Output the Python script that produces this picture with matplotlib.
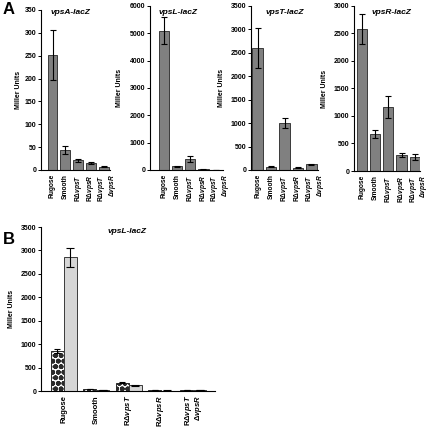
import numpy as np
import matplotlib
matplotlib.use('Agg')
import matplotlib.pyplot as plt
import matplotlib.transforms as mtransforms

plt.rcParams['font.family'] = ['Liberation Sans', 'DejaVu Sans']
plt.rcParams['font.weight'] = 'bold'
plt.rcParams['mathtext.fontset'] = 'custom'
plt.rcParams['mathtext.it'] = 'Liberation Sans:italic:bold'
plt.rcParams['mathtext.rm'] = 'Liberation Sans:bold'
plt.rcParams['hatch.linewidth'] = 1.8

strains = ['Rugose', 'Smooth', 'RΔ$\\mathit{vpsT}$', 'RΔ$\\mathit{vpsR}$',
           'RΔ$\\mathit{vpsT}$\nΔ$\\mathit{vpsR}$']

# panel A
vpsA = [252, 44, 21, 15, 7]
vpsA_err = [55, 8, 3, 2, 1]
vpsL = [5100, 130, 420, 20, 8]
vpsL_err = [500, 15, 110, 5, 2]
vpsT = [2600, 70, 1010, 50, 120]
vpsT_err = [430, 15, 105, 8, 12]
vpsR = [2580, 670, 1160, 295, 255]
vpsR_err = [280, 70, 200, 40, 50]

# panel B (vpsL-lacZ, two conditions)
b_dots = [860, 40, 175, 15, 15]
b_dots_err = [40, 5, 12, 2, 2]
b_light = [2850, 20, 120, 10, 15]
b_light_err = [210, 3, 10, 2, 2]

W, H = 434, 436
fig = plt.figure(figsize=(W / 100, H / 100), dpi=100)


def rect(l, t, r, b):
    return [l / W, 1 - b / H, (r - l) / W, (b - t) / H]


def style(ax, ymax, step, xlim, fs, shift):
    ax.set_ylim(0, ymax)
    ax.set_yticks(np.arange(0, ymax + 1, step))
    ax.set_xlim(*xlim)
    ax.spines['top'].set_visible(False)
    ax.spines['right'].set_visible(False)
    ax.spines['left'].set_linewidth(0.8)
    ax.spines['bottom'].set_linewidth(0.8)
    ax.tick_params(axis='y', labelsize=5, length=2.5, width=0.7, pad=1)
    ax.tick_params(axis='x', length=0, pad=3)
    ax.set_xticks(range(len(strains)))
    labels = ax.set_xticklabels(strains, rotation=90, fontsize=fs, va='top',
                                ha='center', multialignment='right', linespacing=0.95)
    # two-line label: first line sits on the bar, second line to its right
    off = mtransforms.ScaledTranslation(shift / 72, 0, fig.dpi_scale_trans)
    labels[-1].set_transform(labels[-1].get_transform() + off)
    ax.set_ylabel('Miller Units', fontsize=5, fontweight='bold')


panels = [
    ('vpsA-lacZ', vpsA, vpsA_err, (41, 10, 110, 170), 350, 50, (-0.9, 4.5), 70),
    ('vpsL-lacZ', vpsL, vpsL_err, (150, 6, 223, 170), 6000, 1000, (-1.1, 4.5), 178),
    ('vpsT-lacZ', vpsT, vpsT_err, (251, 6, 318, 170), 3500, 500, (-0.5, 4.5), 285),
    ('vpsR-lacZ', vpsR, vpsR_err, (354, 6, 420, 171), 3000, 500, (-0.6, 4.4), 391),
]
ylab_x = [22, 123, 225, 328]

x = np.arange(len(strains))
for i, (title, vals, err, r, ymax, step, xl, tx) in enumerate(panels):
    ax = fig.add_axes(rect(*r))
    ax.bar(x, vals, width=0.78, color='#808080', edgecolor='#3a3a3a', linewidth=0.7,
           yerr=err, capsize=2, error_kw=dict(elinewidth=0.8, capthick=0.8, ecolor='black'))
    style(ax, ymax, step, xl, 4.8, 2.6)
    ax.yaxis.set_label_coords((ylab_x[i] - r[0]) / (r[2] - r[0]), 0.5)
    fig.text(tx / W, 1 - 13 / H, title, fontsize=6, fontweight='bold', style='italic',
             ha='center', va='center')

axb = fig.add_axes(rect(41, 227, 215, 391))
bw = 0.4
axb.bar(x - bw / 2, b_dots, width=bw, color='white', edgecolor='#2a2a2a', linewidth=0.7,
        hatch='ooo', yerr=b_dots_err, capsize=2,
        error_kw=dict(elinewidth=0.8, capthick=0.8, ecolor='black'))
axb.bar(x + bw / 2, b_light, width=bw, color='#d6d6d6', edgecolor='#3a3a3a', linewidth=0.7,
        yerr=b_light_err, capsize=3,
        error_kw=dict(elinewidth=0.8, capthick=0.8, ecolor='black'))
style(axb, 3500, 500, (-0.71, 4.67), 5.5, 0)
axb.yaxis.set_label_coords((15 - 41) / (215 - 41), 0.5)
fig.text(127 / W, 1 - 231 / H, 'vpsL-lacZ', fontsize=6, fontweight='bold', style='italic',
         ha='center', va='center')

fig.text(9 / W, 1 - 10 / H, 'A', fontsize=12, fontweight='bold', ha='center', va='center')
fig.text(9 / W, 1 - 239 / H, 'B', fontsize=12, fontweight='bold', ha='center', va='center')

fig.savefig('out.png', dpi=100)
